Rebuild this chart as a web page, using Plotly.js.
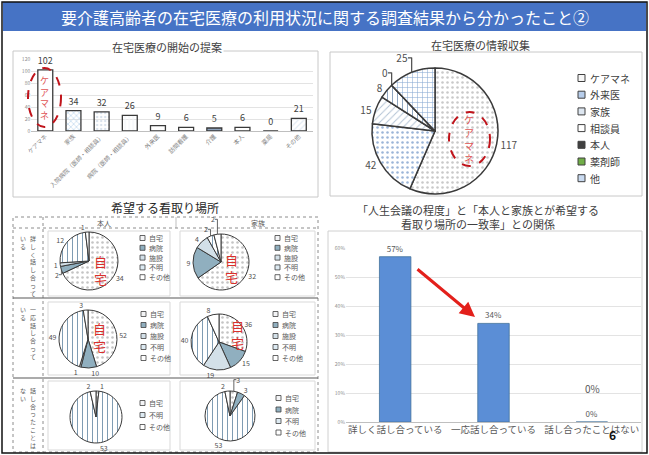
<!DOCTYPE html>
<html><head><meta charset="utf-8">
<script src="https://cdn.plot.ly/plotly-3.0.1.min.js"></script>
<style>html,body{margin:0;padding:0;background:#fff}#chart{width:649px;height:455px}</style>
</head><body><div id="chart"></div>
<script>
// ---------- DATA ----------
const mainTitle = '要介護高齢者の在宅医療の利用状況に関する調査結果から分かったこと②';

const proposalTitle = '在宅医療の開始の提案';
const proposalCategories = ['ケアマネ','家族','入院病院（医師・相談員）','病院（医師・相談員）','外来医','訪問看護','介護','本人','薬局','その他'];
const proposalValues = [102,34,32,26,9,6,5,6,0,21];
const proposalTicks = [0,20,40,60,80,100,120];

const infoTitle = '在宅医療の情報収集';
const infoLabels = ['ケアマネ','外来医','家族','相談員','本人','薬剤師','他'];
const infoValues = [117,42,15,8,0,0,25];

const placeTitle = '希望する看取り場所';
const placeColumns = ['本人','家族'];
const placeRows = ['詳しく話し合っている','一応話し合っている','話し合ったことはない'];
const placeLabels = ['自宅','病院','施設','不明','その他'];
const detailedSelf = [34,2,1,12,1];
const detailedFamily = [32,9,4,2,2];
const roughSelf = [52,10,1,49,3];
const roughFamily = [36,15,19,40,8];
const noneSelfLabels = ['自宅','不明','その他'];
const noneSelf = [1,53,2];
const noneFamilyLabels = ['自宅','病院','不明','その他'];
const noneFamily = [3,3,53,2];
const homeMark = '自宅';

const matchTitle = '「人生会議の程度」と「本人と家族とが希望する<br>看取り場所の一致率」との関係';
const matchCategories = ['詳しく話し合っている','一応話し合っている','話し合ったことはない'];
const matchValues = [0.57,0.34,0];
const matchTicks = [0,0.1,0.2,0.3,0.4,0.5,0.6];
const pageNumber = '6';

// ---------- STYLES ----------
const CJK = '"Noto Sans CJK JP", "Noto Sans", sans-serif';
const W = 649, H = 455;
const fx = p => p / W;
const fy = p => 1 - p / H;
const domX = (a,b) => [fx(a), fx(b)];
const domY = (top,bottom) => [fy(bottom), fy(top)];

const proposalFill = ['#FFFFFF','#BDD7EE','#D9E2EC','#F2F5F9','#FFFFFF','#FFFFFF','#8EA3BD','#FFFFFF','#FFFFFF','#E2EAF3'];
const proposalPattern = ['','x','.','|','-','','','','','/'];

const infoStyle = {
  'ケアマネ':{c:'#F6F6F6',p:'.',f:'#C9C9C9'},
  '外来医':{c:'#B7CDEA',p:'.',f:'#9CB5D8'},
  '家族':{c:'#DDE6F0',p:'/',f:'#B4C4D6'},
  '相談員':{c:'#FFFFFF',p:'|',f:'#8FA6C0'},
  '本人':{c:'#404040',p:'',f:'#404040'},
  '薬剤師':{c:'#70AD47',p:'',f:'#70AD47'},
  '他':{c:'#C9DAF0',p:'+',f:'#86A8D2'}
};
const placeStyle = {
  '自宅':{c:'#F3F4F6',p:'.',f:'#C4C4C4'},
  '病院':{c:'#90AFBF',p:'',f:'#90AFBF'},
  '施設':{c:'#D3E0E8',p:'',f:'#D3E0E8'},
  '不明':{c:'#DDEAF2',p:'|',f:'#7F9CB3'},
  'その他':{c:'#FFFFFF',p:'',f:'#FFFFFF'}
};

// labels of adjacent zero slices overlap in the source, so only one is shown
const sliceText = values => values.map((v,i) => (v === 0 && i > 0 && values[i-1] === 0) ? '' : String(v));

function pieTrace(labels, values, style, cx, cy, r, fontSize, lineW) {
  return {
    type:'pie', labels:labels, values:values, sort:false, direction:'clockwise', rotation:0,
    domain:{x:domX(cx-r,cx+r), y:domY(cy-r,cy+r)},
    marker:{colors:labels.map(l=>style[l].c), line:{color:'#3A3A3A', width:lineW},
      pattern:{shape:labels.map(l=>style[l].p), fgcolor:labels.map(l=>style[l].f), size:5, solidity:0.2}},
    text:sliceText(values), textinfo:'text', textposition:'outside', textfont:{size:fontSize, color:'#505050', family:CJK},
    showlegend:false, hoverinfo:'label+value'
  };
}

const traces = [];
traces.push({
  type:'bar', x:proposalCategories, y:proposalValues, xaxis:'x', yaxis:'y', width:0.53,
  marker:{color:proposalFill, line:{color:'#3A3A3A', width:1.3},
    pattern:{shape:proposalPattern, fgcolor:'#8FA6C4', size:4, solidity:0.3}},
  text:proposalValues.map(String), textposition:'outside', cliponaxis:false,
  textfont:{size:9, color:'#404040', family:CJK}, hoverinfo:'x+y'
});
traces.push({
  type:'bar', x:matchCategories, y:matchValues, xaxis:'x2', yaxis:'y2', width:0.32,
  marker:{color:'#5B8ED6', line:{color:'#41719C', width:0.8}},
  texttemplate:'%{y:.0%}', textposition:'outside', cliponaxis:false,
  textfont:{size:8, color:'#595959', family:CJK}, hoverinfo:'x+y'
});
traces.push(pieTrace(infoLabels, infoValues, infoStyle, 435, 131, 63, 10, 1.5));
const pies = [
  {labels:placeLabels, values:detailedSelf, cx:89, cy:261, r:29},
  {labels:placeLabels, values:detailedFamily, cx:221, cy:262, r:28},
  {labels:placeLabels, values:roughSelf, cx:88, cy:339, r:29},
  {labels:placeLabels, values:roughFamily, cx:219, cy:342, r:28},
  {labels:noneSelfLabels, values:noneSelf, cx:96, cy:417, r:26},
  {labels:noneFamilyLabels, values:noneFamily, cx:230, cy:416, r:25}
];
pies.forEach(p => traces.push(pieTrace(p.labels, p.values, placeStyle, p.cx, p.cy, p.r, 7, 1)));

// ---------- SHAPES & ANNOTATIONS ----------
const shapes = [];
const annotations = [];
const rect = (x0,y0,x1,y1,opt) => Object.assign({type:'rect', xref:'paper', yref:'paper', x0:fx(x0), x1:fx(x1), y0:fy(y1), y1:fy(y0)}, opt);
const line = (x0,y0,x1,y1,opt) => Object.assign({type:'line', xref:'paper', yref:'paper', x0:fx(x0), x1:fx(x1), y0:fy(y0), y1:fy(y1)}, opt);
const text = (x,y,t,size,color,opt) => Object.assign({xref:'paper', yref:'paper', x:fx(x), y:fy(y), text:t, showarrow:false, font:{size:size, color:color, family:CJK}, xanchor:'center', yanchor:'middle'}, opt||{});

// slide frame and title bar
shapes.push(rect(3,2,646,31,{fillcolor:'#4673C5', line:{width:0}, layer:'below'}));
shapes.push(rect(2,2,647,453,{line:{color:'#111', width:1.5}}));
annotations.push(text(325,17,mainTitle,16,'#FFFFFF'));

// top chart boxes
shapes.push(rect(13,51,318,197,{line:{color:'#C8C8C8', width:1}, layer:'below'}));
shapes.push(rect(330,52,642,196,{line:{color:'#C8C8C8', width:1}, layer:'below'}));
annotations.push(text(167,47,proposalTitle,11,'#404040',{bgcolor:'#FFFFFF'}));
annotations.push(text(480,45,infoTitle,11,'#404040'));

// red ellipses with vertical text
shapes.push({type:'circle', xref:'paper', yref:'paper', x0:fx(28), x1:fx(61), y0:fy(127), y1:fy(68), line:{color:'#C0141B', width:2, dash:'dash'}});
annotations.push(text(45,98,'ケ<br>ア<br>マ<br>ネ',9,'#E05555'));
shapes.push({type:'circle', xref:'paper', yref:'paper', x0:fx(449), x1:fx(490), y0:fy(166), y1:fy(112), line:{color:'#C0141B', width:2, dash:'dash'}});
annotations.push(text(469,139,'ケ<br>ア<br>マ<br>ネ',10,'#E05555'));

// pie 2 legend
infoLabels.forEach((l,i) => {
  const y = 78 + i*16.7;
  shapes.push(rect(578,y-3.5,585,y+3.5,{fillcolor:infoStyle[l].c, line:{color:'#404040', width:1}}));
  annotations.push(text(588,y,l,10,'#404040',{xanchor:'left'}));
});

// table
annotations.push(text(165,208,placeTitle,12,'#262626'));
shapes.push(rect(13,217,318,452,{line:{color:'#8C8C8C', width:1, dash:'dot'}, layer:'below'}));
shapes.push(line(43,217,43,452,{line:{color:'#8C8C8C', width:1, dash:'dot'}, layer:'below'}));
shapes.push(line(176,217,176,228,{line:{color:'#BFBFBF', width:1}, layer:'below'}));
shapes.push(line(13,228,318,228,{line:{color:'#8C8C8C', width:1, dash:'dot'}, layer:'below'}));
shapes.push(line(13,298,318,298,{line:{color:'#595959', width:1.2}, layer:'below'}));
shapes.push(line(13,378,318,378,{line:{color:'#595959', width:1.2}, layer:'below'}));
annotations.push(text(104,222.5,placeColumns[0],7,'#595959'));
annotations.push(text(258,222.5,placeColumns[1],7,'#595959'));
const cellBoxes = [[48,231,170,296],[180,231,315,296],[48,302,170,375],[180,302,315,375],[48,381,170,450],[180,381,315,450]];
cellBoxes.forEach(b => shapes.push(rect(b[0],b[1],b[2],b[3],{line:{color:'#D9D9D9', width:1}, layer:'below'})));

// row labels (vertical)
const rowTops = [232,303,384];
placeRows.forEach((r,i) => {
  const tail = r.slice(-2);
  const head = r.slice(0,-2);
  const vert = s => s.split('').join('<br>');
  annotations.push(text(33,rowTops[i],vert(head),6,'#595959',{yanchor:'top'}));
  annotations.push(text(23,rowTops[i],vert(tail),6,'#595959',{yanchor:'top'}));
});

// small pie legends
const legendPos = [
  {x:140,y:238,s:9.8},{x:275,y:238,s:9.8},{x:141,y:314,s:11},{x:273,y:314,s:11},{x:140,y:403,s:12},{x:276,y:398,s:11.5}
];
pies.forEach((p,k) => {
  const lp = legendPos[k];
  p.labels.forEach((l,i) => {
    const y = lp.y + i*lp.s;
    shapes.push(rect(lp.x,y-2.5,lp.x+5,y+2.5,{fillcolor:placeStyle[l].c, line:{color:'#404040', width:0.8}}));
    annotations.push(text(lp.x+7,y,l,7,'#595959',{xanchor:'left'}));
  });
});

// red "自宅" marks on pies
const homeMarks = [[100,270],[232,268],[99,337],[237,334]];
homeMarks.forEach(m => annotations.push(text(m[0],m[1],homeMark.split('').join('<br>'),13,'#D9302C')));

// chart 4
shapes.push(rect(328,231,642,452,{line:{color:'#D0D0D0', width:1}, layer:'below'}));
annotations.push(text(478,217,matchTitle,11,'#404040'));
annotations.push({xref:'paper', yref:'paper', x:fx(475), y:fy(317), ax:-59, ay:-49, axref:'pixel', ayref:'pixel',
  showarrow:true, arrowhead:2, arrowsize:1, arrowwidth:3, arrowcolor:'#E3201B', text:''});
annotations.push(text(592,388,'0%',10,'#595959'));
annotations.push(text(612,434,pageNumber,12,'#111111',{font:{size:12,color:'#111',family:CJK, weight:'bold'}}));

const layout = {
  width:W, height:H, margin:{l:0,r:0,t:0,b:0}, paper_bgcolor:'#FFFFFF', plot_bgcolor:'rgba(0,0,0,0)',
  showlegend:false, font:{family:CJK, color:'#404040'},
  xaxis:{domain:domX(31.2,312.9), anchor:'y', tickangle:-45, tickfont:{size:6, color:'#7F7F7F'}, showline:false, ticks:'', fixedrange:true},
  yaxis:{domain:domY(59,131), anchor:'x', range:[0,120], tickvals:proposalTicks, tickfont:{size:5, color:'#8C8C8C'}, gridcolor:'#E3E3E3', gridwidth:1, zeroline:true, zerolinecolor:'#BFBFBF', ticks:'', fixedrange:true},
  xaxis2:{domain:domX(346,641), anchor:'y2', tickfont:{size:9.5, color:'#595959'}, showline:false, ticks:'', fixedrange:true},
  yaxis2:{domain:domY(248,422), anchor:'x2', range:[0,0.6], tickvals:matchTicks, tickformat:'.0%', tickfont:{size:5, color:'#8C8C8C'}, gridcolor:'#E3E3E3', zeroline:true, zerolinecolor:'#BFBFBF', ticks:'', fixedrange:true},
  shapes:shapes, annotations:annotations
};
Plotly.newPlot('chart', traces, layout, {displayModeBar:false, staticPlot:true});
</script>
</body></html>
